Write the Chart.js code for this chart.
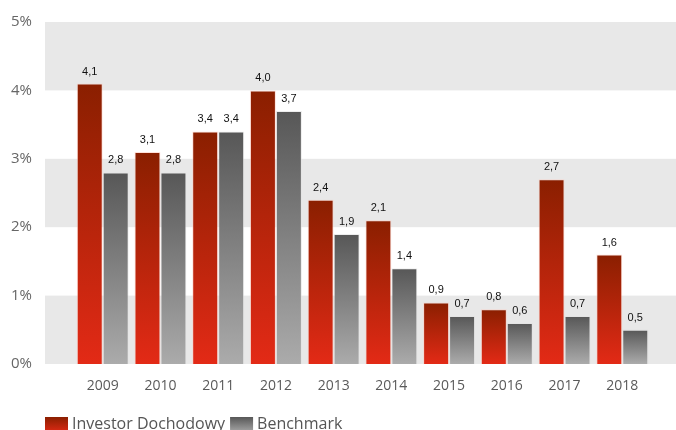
<!DOCTYPE html>
<html>
<head>
<meta charset="utf-8">
<script src="https://cdn.jsdelivr.net/npm/chart.js@4"></script>
<style>
html,body{margin:0;padding:0;background:#fff;}
#wrap{width:676px;height:430px;}
</style>
</head>
<body>
<div id="wrap"><canvas id="c" width="676" height="430"></canvas></div>
<script>
const years = ['2009','2010','2011','2012','2013','2014','2015','2016','2017','2018'];
const investorValues = [4.1, 3.1, 3.4, 4.0, 2.4, 2.1, 0.9, 0.8, 2.7, 1.6];
const benchmarkValues = [2.8, 2.8, 3.4, 3.7, 1.9, 1.4, 0.7, 0.6, 0.7, 0.5];
const yTicks = [0, 1, 2, 3, 4, 5];
const seriesNames = ['Investor Dochodowy', 'Benchmark'];

const labels = [''].concat(years, ['']);
const pad = arr => [null].concat(arr, [null]);

const RED = ['#8a1f00', '#e32a16'];
const GRAY = ['#575757', '#ababab'];

function barGradient(colors) {
  return function(ctx) {
    const chart = ctx.chart;
    if (ctx.type !== 'data' || !chart.chartArea || ctx.raw == null) return colors[1];
    const ys = chart.scales.y;
    const top = ys.getPixelForValue(ctx.raw);
    const bottom = ys.getPixelForValue(0);
    const g = chart.ctx.createLinearGradient(0, top, 0, bottom);
    g.addColorStop(0, colors[0]);
    g.addColorStop(1, colors[1]);
    return g;
  };
}

// let the category axis run slightly past the canvas edge, as in the original
const extendXPlugin = {
  id: 'extendX',
  afterLayout(chart) {
    const xs = chart.scales.x;
    xs.right = chart.width + 4;
    xs.width = xs.right - xs.left;
    xs.configure();
  }
};

const bandsPlugin = {
  id: 'bands',
  beforeDraw(chart) {
    const {ctx, chartArea, scales} = chart;
    const y = scales.y;
    ctx.save();
    ctx.fillStyle = '#e8e8e8';
    for (let i = 0; i < yTicks.length - 1; i += 2) {
      const t = y.getPixelForValue(yTicks[i + 1]);
      const b = y.getPixelForValue(yTicks[i]);
      ctx.fillRect(chartArea.left, t, chart.width - chartArea.left, b - t);
    }
    ctx.restore();
  }
};

const valueLabelsPlugin = {
  id: 'valueLabels',
  afterDatasetsDraw(chart) {
    const ctx = chart.ctx;
    ctx.save();
    ctx.font = '11px Arial, "Liberation Sans", sans-serif';
    ctx.fillStyle = '#111';
    ctx.textAlign = 'center';
    ctx.textBaseline = 'alphabetic';
    chart.data.datasets.forEach((ds, di) => {
      const meta = chart.getDatasetMeta(di);
      meta.data.forEach((el, i) => {
        const v = ds.data[i];
        if (v == null) return;
        ctx.fillText(v.toFixed(1).replace('.', ','), el.x, el.y - 9);
      });
    });
    ctx.restore();
  }
};

const legendPlugin = {
  id: 'customLegend',
  afterDraw(chart) {
    const ctx = chart.ctx;
    ctx.save();
    ctx.font = '16px "Open Sans", sans-serif';
    ctx.textBaseline = 'alphabetic';
    ctx.textAlign = 'left';
    let x = 45;
    const top = 417, h = 16, w = 23;
    const cols = [RED, GRAY];
    seriesNames.forEach((name, i) => {
      const g = ctx.createLinearGradient(0, top, 0, top + h);
      g.addColorStop(0, cols[i][0]);
      g.addColorStop(1, cols[i][1]);
      ctx.fillStyle = g;
      ctx.fillRect(x, top, w, h);
      x += w + 4;
      ctx.fillStyle = '#555';
      ctx.fillText(name, x, 429);
      x += ctx.measureText(name).width + 5;
    });
    ctx.restore();
  }
};

new Chart(document.getElementById('c'), {
  type: 'bar',
  data: {
    labels: labels,
    datasets: [
      {
        label: seriesNames[0],
        data: pad(investorValues),
        backgroundColor: barGradient(RED),
        borderColor: 'rgba(255,200,190,0.55)',
        borderWidth: 1,
        categoryPercentage: 0.9,
        barPercentage: 1.0
      },
      {
        label: seriesNames[1],
        data: pad(benchmarkValues),
        backgroundColor: barGradient(GRAY),
        borderColor: 'rgba(225,225,225,0.6)',
        borderWidth: 1,
        categoryPercentage: 0.9,
        barPercentage: 1.0
      }
    ]
  },
  options: {
    responsive: false,
    animation: false,
    layout: { padding: { top: 20, right: 0, bottom: 30, left: 0 } },
    plugins: {
      legend: { display: false },
      tooltip: { enabled: false }
    },
    scales: {
      x: {
        offset: false,
        grid: { display: false, drawTicks: false },
        border: { display: false },
        ticks: {
          autoSkip: false,
          maxRotation: 0,
          padding: 14,
          color: '#5a5a5a',
          font: { family: '"Open Sans", sans-serif', size: 14 }
        },
        afterFit(scale) {
          scale.height = 36;
          scale.paddingLeft = 0;
          scale.paddingRight = 0;
        }
      },
      y: {
        min: yTicks[0],
        max: yTicks[yTicks.length - 1],
        grid: { display: false, drawTicks: false },
        border: { display: false },
        ticks: {
          stepSize: 1,
          padding: 13,
          color: '#666',
          font: { family: '"Open Sans", sans-serif', size: 15 },
          callback: v => v + '%'
        },
        afterFit(scale) { scale.width = 45; }
      }
    }
  },
  plugins: [extendXPlugin, bandsPlugin, valueLabelsPlugin, legendPlugin]
});
</script>
</body>
</html>
